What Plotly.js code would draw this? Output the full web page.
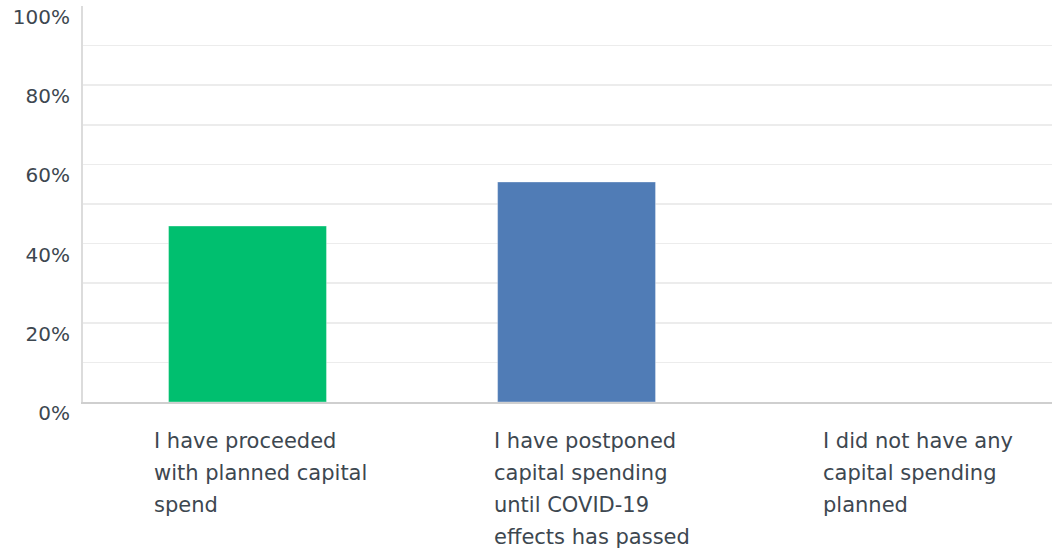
<!DOCTYPE html>
<html>
<head>
<meta charset="utf-8">
<script src="https://cdn.plot.ly/plotly-3.0.1.min.js"></script>
<style>html,body{margin:0;padding:0;background:#fff;}#chart{width:1052px;height:549px;}</style>
</head>
<body>
<div id="chart"></div>
<script>
// Data
const categories = [
  "I have proceeded<br>with planned capital<br>spend",
  "I have postponed<br>capital spending<br>until COVID-19<br>effects has passed",
  "I did not have any<br>capital spending<br>planned"
];
const values = [44.44, 55.56, 0];
const barColors = ["#00BF6F", "#507CB6", "#F9BE00"];
const tickVals = [0, 20, 40, 60, 80, 100];
const tickText = ["0%", "20%", "40%", "60%", "80%", "100%"];
const minorGrid = [10, 20, 30, 40, 50, 60, 70, 80, 90];

const textColor = "#3d4750";
const xIdx = categories.map((_, i) => i);
const labelShift = [-96, -85, -85];

const annotations = [];
categories.forEach((c, i) => {
  c.split("<br>").forEach((line, k) => {
    annotations.push({
      xref: "x", yref: "paper", x: i, y: 0,
      xanchor: "left", yanchor: "middle",
      xshift: labelShift[i], yshift: -39 - 32 * k,
      text: line, showarrow: false, align: "left",
      font: {family: "DejaVu Sans", size: 21, color: textColor}
    });
  });
});

const trace = {
  type: "bar",
  x: xIdx,
  y: values,
  width: 0.48,
  marker: {color: barColors, line: {color: "rgba(255,255,255,0.35)", width: 1}},
  hoverinfo: "none"
};

const layout = {
  width: 1052, height: 549,
  margin: {l: 83, r: 0, t: 6, b: 147, pad: 0},
  paper_bgcolor: "#fff", plot_bgcolor: "#fff",
  showlegend: false,
  bargap: 0,
  xaxis: {
    range: [-0.5, 2.445],
    showticklabels: false, ticks: "",
    showgrid: false, zeroline: false,
    showline: true, linecolor: "#cfcfcf", linewidth: 2,
    fixedrange: true
  },
  yaxis: {
    range: [0, 100],
    tickmode: "array", tickvals: tickVals, ticktext: tickText,
    ticks: "", showgrid: false, zeroline: false,
    showline: true, linecolor: "#dcdcdc", linewidth: 2,
    ticklabelstandoff: 7, ticklabelshift: 11,
    tickfont: {family: "DejaVu Sans", size: 20, color: textColor},
    minor: {tickmode: "array", tickvals: minorGrid, showgrid: true, gridcolor: "#ececec", gridwidth: 1.5, ticks: ""},
    fixedrange: true
  },
  annotations: annotations
};

Plotly.newPlot("chart", [trace], layout, {displayModeBar: false, staticPlot: true});
</script>
</body>
</html>
